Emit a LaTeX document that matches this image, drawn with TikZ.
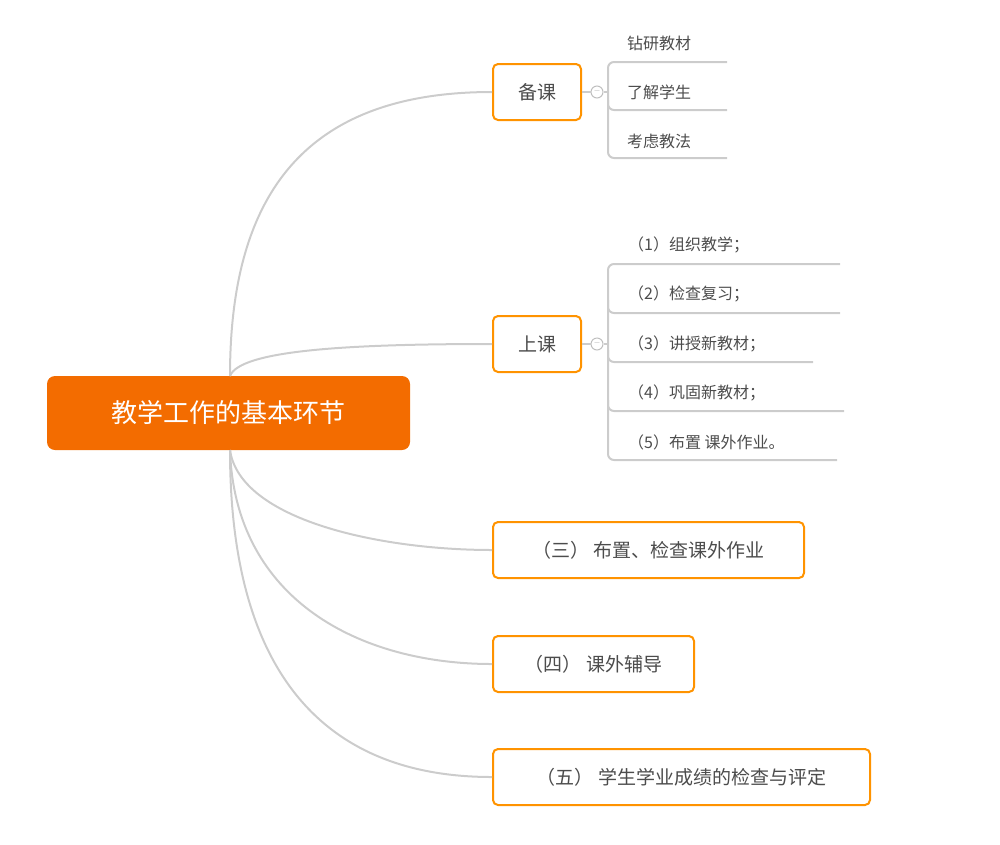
\documentclass[tikz,border=0pt]{standalone}
\usepackage{fontspec}
\newfontfamily\cjk{Noto Sans CJK SC}
\begin{document}
\begin{tikzpicture}[x=1pt,y=-1pt,
 conn/.style={draw=black!20,line width=2pt},
 sub/.style={draw=orange!85!yellow,line width=2pt,rounded corners=5pt,fill=white,minimum height=56pt,inner sep=0pt,text=black!70,font=\cjk\fontsize{19}{19}\selectfont},
 leaf/.style={anchor=west,text=black!70,font=\cjk\fontsize{16}{16}\selectfont,inner sep=0pt},
 brk/.style={draw=black!20,line width=2pt,rounded corners=6pt},
 tog/.style={circle,draw=black!25,fill=white,line width=1pt,minimum size=12pt,inner sep=0pt,font=\fontsize{10}{10}\selectfont,text=black!60}]
\useasboundingbox (0,0) rectangle (1000,844);
\node[fill={rgb,255:red,243;green,108;blue,0},rounded corners=8pt,minimum width=363pt,minimum height=74pt,text=white,font=\cjk\fontsize{26}{26}\selectfont] (root) at (228.5,413) {教学工作的基本环节};
\coordinate (rt) at (230,376); \coordinate (rb) at (230,450);
\node[sub,minimum width=88pt] (a) at (537,92) {备课};
\node[sub,minimum width=88pt] (b) at (537,344) {上课};
\node[sub,minimum width=311pt] (c) at (648.5,550) {（三） 布置、检查课外作业};
\node[sub,minimum width=201pt] (d) at (593.5,664) {（四） 课外辅导};
\node[sub,minimum width=377pt] (e) at (681.5,777) {（五） 学生学业成绩的检查与评定};
\begin{scope}[on background layer/.try]
\end{scope}
\draw[conn] (rt) .. controls (230,200) and (300,92) .. (a.west);
\draw[conn] (rt) .. controls (240,350) and (350,344) .. (b.west);
\draw[conn] (rb) .. controls (240,520) and (380,550) .. (c.west);
\draw[conn] (rb) .. controls (235,600) and (360,664) .. (d.west);
\draw[conn] (rb) .. controls (230,680) and (330,777) .. (e.west);
% 备课 leaves
\node[tog] (ta) at (597,92) {--};
\draw[conn] (a.east) -- (ta.west);
\draw[brk] (727,62) -- (608,62) -- (608,158) -- (727,158);
\draw[brk] (608,100) |- (727,110);
\draw[conn] (ta.east) -- (608,92);
\node[leaf] (a1) at (627,43) {钻研教材};
\node[leaf] (a2) at (627,92) {了解学生};
\node[leaf] (a3) at (627,141) {考虑教法};
% 上课 leaves
\node[tog] (tb) at (597,344) {--};
\draw[conn] (b.east) -- (tb.west);
\draw[brk] (840,264) -- (608,264) -- (608,460) -- (837,460);
\draw[brk] (608,300) |- (840,313);
\draw[brk] (608,350) |- (813,362);
\draw[brk] (608,400) |- (844,411);
\draw[conn] (tb.east) -- (608,344);
\node[leaf] (b1) at (628,245) {（1）组织教学；};
\node[leaf] (b2) at (628,294) {（2）检查复习；};
\node[leaf] (b3) at (628,344) {（3）讲授新教材；};
\node[leaf] (b4) at (628,393) {（4）巩固新教材；};
\node[leaf] (b5) at (628,442) {（5）布置 课外作业。};
\end{tikzpicture}
\end{document}
